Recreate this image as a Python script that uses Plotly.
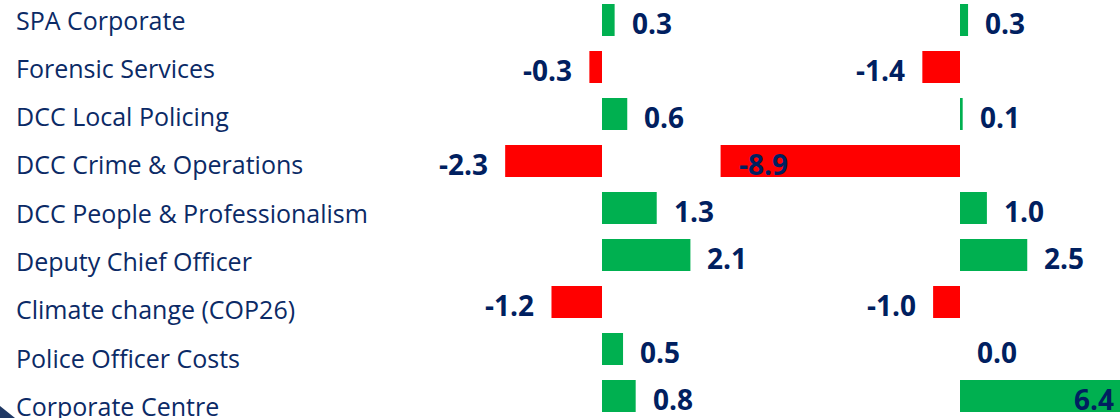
import plotly.graph_objects as go

# Directorate variances (£m), two reporting columns
categories = [
    "SPA Corporate",
    "Forensic Services",
    "DCC Local Policing",
    "DCC Crime & Operations",
    "DCC People & Professionalism",
    "Deputy Chief Officer",
    "Climate change (COP26)",
    "Police Officer Costs",
    "Corporate Centre",
]
variance_a = [0.3, -0.3, 0.6, -2.3, 1.3, 2.1, -1.2, 0.5, 0.8]
variance_b = [0.3, -1.4, 0.1, -8.9, 1.0, 2.5, -1.0, 0.0, 6.4]

GREEN = "#00B050"
RED = "#FF0000"
NAVY = "#002060"
LABEL_NAVY = "#0B2A66"
W, H = 1120, 418

rows = list(range(len(categories)))

# axis geometry: zero position (px), scale (px per unit) and domain (px) per column
z1, s1, d1 = 602, 42.1, (420, 700)
z2, s2, d2 = 960, 26.9, (700, 1120)
row0, step = 20, 47.0          # bar rows
label_step = 48.3              # category text rows are spaced a little wider

x1_range = [(d1[0] - z1) / s1, (d1[1] - z1) / s1]
x2_range = [(d2[0] - z2) / s2, (d2[1] - z2) / s2]


def bar_colors(vals):
    return [GREEN if v >= 0 else RED for v in vals]


fig = go.Figure()
fig.add_trace(go.Bar(x=variance_a, y=rows, orientation="h", width=0.68,
                     marker=dict(color=bar_colors(variance_a), line=dict(width=0)),
                     xaxis="x", yaxis="y", hoverinfo="skip"))
fig.add_trace(go.Bar(x=variance_b, y=rows, orientation="h", width=0.68,
                     marker=dict(color=bar_colors(variance_b), line=dict(width=0)),
                     xaxis="x2", yaxis="y", hoverinfo="skip"))

annotations = []
# category names, left aligned
for i, name in enumerate(categories):
    annotations.append(dict(x=14 / W, xref="paper", y=i, yref="y", text=name,
                            xanchor="left", yanchor="middle", showarrow=False,
                            yshift=0.5 - (label_step - step) * i,
                            font=dict(family="Open Sans", size=25, color=LABEL_NAVY)))


def value_labels(vals, xref, xrange, inside_limit):
    out = []
    lo, hi = xrange
    for i, v in enumerate(vals):
        inside = abs(v) > inside_limit
        pos = v >= 0
        x = v
        if inside:
            anchor = "right" if pos else "left"
            shift = -16 if pos else 16
            # bar runs past the visible edge: keep its label at the edge
            if x > hi:
                x, shift = hi * 0.9999, -4
            elif x < lo:
                x, shift = lo * 0.9999, 4
        else:
            anchor = "left" if pos else "right"
            shift = 15 if pos else -15
        out.append(dict(x=x, xref=xref, y=i, yref="y", text=f"<b>{v:.1f}</b>",
                        xanchor=anchor, yanchor="middle", xshift=shift, yshift=-3,
                        showarrow=False,
                        font=dict(family="Open Sans", size=28, color=NAVY)))
    return out


annotations += value_labels(variance_a, "x", x1_range, 99)
annotations += value_labels(variance_b, "x2", x2_range, 5)

fig.update_layout(
    width=W, height=H,
    margin=dict(l=0, r=0, t=0, b=0),
    paper_bgcolor="white", plot_bgcolor="rgba(0,0,0,0)",
    showlegend=False, barmode="overlay",
    xaxis=dict(domain=[d1[0] / W, d1[1] / W], range=x1_range,
               visible=False, fixedrange=True),
    xaxis2=dict(domain=[d2[0] / W, d2[1] / W], range=x2_range,
                visible=False, fixedrange=True),
    yaxis=dict(range=[(H - row0) / step, -row0 / step],
               visible=False, fixedrange=True),
    annotations=annotations,
    shapes=[dict(type="path", xref="paper", yref="paper",
                 path=f"M 0 {12 / H} L 0 0 L {15 / W} 0 Z",
                 fillcolor="#1F3864", line=dict(width=0))],
)

fig.write_html("out.html")
